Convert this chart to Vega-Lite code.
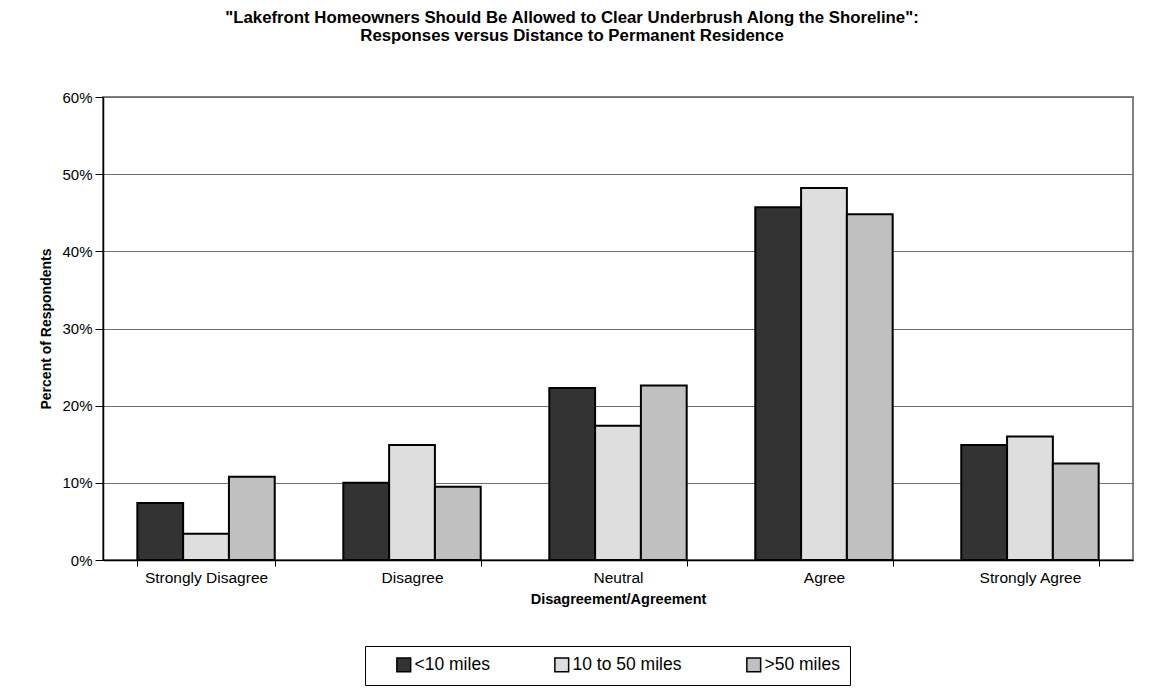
{
  "$schema": "https://vega.github.io/schema/vega-lite/v6.json",
  "width": 1030,
  "height": 463,
  "autosize": {"type": "none"},
  "padding": {"left": 103, "top": 97, "right": 18, "bottom": 128},
  "background": "white",
  "config": {
    "font": "Liberation Sans",
    "view": {"stroke": "#808080", "strokeWidth": 2}
  },
  "title": {
    "text": ["\"Lakefront Homeowners Should Be Allowed to Clear Underbrush Along the Shoreline\":", "Responses versus Distance to Permanent Residence"],
    "fontSize": 16.8,
    "fontWeight": "bold",
    "color": "black",
    "anchor": "middle",
    "dx": -46,
    "offset": 45,
    "lineHeight": 18
  },
  "data": {
    "values": [
      {"response": "Strongly Disagree", "distance": "<10 miles", "pct": 0.074},
      {"response": "Strongly Disagree", "distance": "10 to 50 miles", "pct": 0.034},
      {"response": "Strongly Disagree", "distance": ">50 miles", "pct": 0.108},
      {"response": "Disagree", "distance": "<10 miles", "pct": 0.100},
      {"response": "Disagree", "distance": "10 to 50 miles", "pct": 0.149},
      {"response": "Disagree", "distance": ">50 miles", "pct": 0.095},
      {"response": "Neutral", "distance": "<10 miles", "pct": 0.223},
      {"response": "Neutral", "distance": "10 to 50 miles", "pct": 0.174},
      {"response": "Neutral", "distance": ">50 miles", "pct": 0.226},
      {"response": "Agree", "distance": "<10 miles", "pct": 0.457},
      {"response": "Agree", "distance": "10 to 50 miles", "pct": 0.482},
      {"response": "Agree", "distance": ">50 miles", "pct": 0.448},
      {"response": "Strongly Agree", "distance": "<10 miles", "pct": 0.149},
      {"response": "Strongly Agree", "distance": "10 to 50 miles", "pct": 0.160},
      {"response": "Strongly Agree", "distance": ">50 miles", "pct": 0.125}
    ]
  },
  "mark": {"type": "bar", "stroke": "black", "strokeWidth": 2},
  "encoding": {
    "x": {
      "field": "response",
      "type": "nominal",
      "sort": ["Strongly Disagree", "Disagree", "Neutral", "Agree", "Strongly Agree"],
      "scale": {"paddingInner": 0.333, "paddingOuter": 0.1667},
      "axis": {
        "title": "Disagreement/Agreement",
        "titleFontSize": 14.5,
        "titleFontWeight": "bold",
        "titleColor": "black",
        "titlePadding": 7,
        "labelAngle": 0,
        "labelFontSize": 15.5,
        "labelColor": "black",
        "labelPadding": 4,
        "tickBand": "extent",
        "tickSize": 6,
        "tickColor": "black",
        "domainColor": "black",
        "domainWidth": 1.5
      }
    },
    "xOffset": {
      "field": "distance",
      "sort": ["<10 miles", "10 to 50 miles", ">50 miles"],
      "scale": {"paddingInner": 0, "paddingOuter": 0}
    },
    "y": {
      "field": "pct",
      "type": "quantitative",
      "scale": {"domain": [0, 0.6], "nice": false},
      "axis": {
        "title": "Percent of Respondents",
        "titleFontSize": 14,
        "titleFontWeight": "bold",
        "titleColor": "black",
        "titlePadding": 8,
        "format": ".0%",
        "values": [0, 0.1, 0.2, 0.3, 0.4, 0.5, 0.6],
        "labelFontSize": 15,
        "labelColor": "black",
        "labelPadding": 3,
        "tickSize": 8,
        "tickColor": "black",
        "domainColor": "black",
        "domainWidth": 1.5,
        "gridColor": "#6e6e6e",
        "gridWidth": 1.2
      }
    },
    "fill": {
      "field": "distance",
      "type": "nominal",
      "scale": {
        "domain": ["<10 miles", "10 to 50 miles", ">50 miles"],
        "range": ["#333333", "#dedede", "#c0c0c0"]
      },
      "legend": {
        "title": null,
        "orient": "none",
        "legendX": 262,
        "legendY": 549,
        "direction": "horizontal",
        "strokeColor": "black",
        "padding": 10,
        "symbolType": "square",
        "symbolSize": 190,
        "symbolOffset": 20,
        "symbolStrokeColor": "black",
        "symbolStrokeWidth": 1.5,
        "symbolOpacity": 1,
        "labelFontSize": 17.5,
        "labelColor": "black",
        "labelOffset": 2,
        "columnPadding": 43
      }
    }
  }
}
